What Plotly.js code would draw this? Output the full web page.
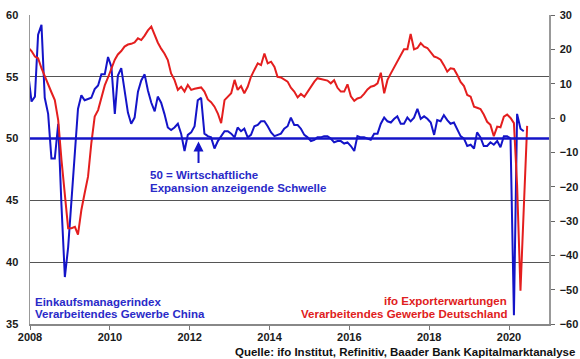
<!DOCTYPE html>
<html>
<head>
<meta charset="utf-8">
<script src="https://cdn.plot.ly/plotly-3.0.1.min.js"></script>
<style>html,body{margin:0;padding:0;background:#fff;}#chart{width:580px;height:359px;}</style>
</head>
<body>
<div id="chart"></div>
<script>
// First month of both series: December 2007 (values plotted mid-month)
const startYear = 2007, startMonth = 12;

// Einkaufsmanagerindex, Verarbeitendes Gewerbe China (left axis)
const chinaPMI = [
  55.3,
  53.0, 53.4, 58.4, 59.2, 53.3, 52.0, 48.4, 48.4, 51.2, 44.6, 38.8, 41.2,
  45.3, 49.0, 52.4, 53.5, 53.1, 53.2, 53.3, 54.0, 54.3, 55.2, 55.2, 56.6,
  55.8, 52.0, 55.1, 55.7, 53.9, 52.1, 51.2, 51.7, 53.8, 54.7, 55.2, 53.9,
  52.9, 52.2, 53.4, 52.9, 52.0, 50.9, 50.7, 50.9, 51.2, 50.4, 49.0, 50.3,
  50.5, 51.0, 53.1, 53.3, 50.4, 50.2, 50.1, 49.2, 49.8, 50.2, 50.6, 50.6,
  50.4, 50.1, 50.9, 50.6, 50.8, 50.1, 50.3, 51.0, 51.1, 51.4, 51.4, 51.0,
  50.5, 50.2, 50.3, 50.4, 50.8, 51.0, 51.7, 51.1, 51.1, 50.8, 50.3, 50.1,
  49.8, 49.9, 50.1, 50.1, 50.2, 50.2, 50.0, 49.7, 49.8, 49.8, 49.6, 49.7,
  49.4, 49.0, 50.2, 50.1, 50.1, 50.0, 49.9, 50.4, 50.4, 51.2, 51.7, 51.4,
  51.3, 51.6, 51.8, 51.2, 51.2, 51.7, 51.4, 51.7, 52.4, 51.6, 51.8, 51.6,
  51.3, 50.3, 51.5, 51.4, 51.9, 51.5, 51.2, 51.3, 50.8, 50.2, 50.0, 49.4,
  49.5, 49.2, 50.5, 50.1, 49.4, 49.4, 49.7, 49.5, 49.8, 49.3, 50.2, 50.2,
  50.0, 35.7, 52.0, 50.8, 50.6
];

// ifo Exporterwartungen, Verarbeitendes Gewerbe Deutschland (right axis)
const ifoExport = [
  20.5,
  19.5, 17.9, 17.4, 14.5, 12.0, 10.0, 7.5, 5.2, -0.6, -12.2, -21.9, -32.1,
  -32.1, -31.7, -34.0, -26.8, -21.9, -17.1, -7.4, 0.4, 2.3, 5.8, 9.5, 11.8,
  14.2, 17.0, 18.5, 19.5, 20.8, 21.4, 21.6, 22.0, 23.2, 22.7, 24.0, 25.5,
  26.6, 24.2, 22.0, 20.2, 18.8, 16.9, 13.0, 11.1, 8.2, 9.1, 7.7, 9.6,
  8.2, 8.5, 8.7, 8.9, 7.7, 5.4, 4.6, 3.3, 1.3, -1.5, 5.2, 6.2,
  7.2, 11.1, 8.2, 9.3, 7.2, 9.1, 12.0, 14.0, 15.9, 15.4, 18.8, 15.9,
  16.4, 14.9, 12.0, 11.8, 11.3, 10.6, 8.8, 7.7, 6.0, 7.0, 6.2, 7.7,
  9.3, 10.6, 11.6, 11.3, 11.0, 10.9, 10.1, 11.0, 8.8, 7.7, 7.7, 9.8,
  6.3, 5.0, 5.7, 6.0, 7.0, 8.3, 9.1, 9.4, 10.1, 13.2, 7.2, 11.1,
  13.0, 14.9, 16.6, 18.3, 20.0, 20.0, 24.5, 20.0, 20.4, 21.8, 20.8, 20.4,
  19.3, 17.9, 17.6, 17.0, 15.4, 13.5, 14.5, 14.3, 12.5, 10.5, 9.3, 6.7,
  6.2, 3.3, 3.0, 2.6, 1.0, -1.1, -2.0, -5.3, -2.5, -2.7, 0.4, 1.0,
  0.0, -1.5, -19.5, -50.3, -26.5, -2.3
];

const yearTicks = ['2008', '2010', '2012', '2014', '2016', '2018', '2020'];
const leftTicks = [35, 40, 45, 50, 55, 60];
const threshold = 50;

function monthDates(n) {
  const out = [];
  for (let i = 0; i < n; i++) {
    const m0 = (startMonth - 1) + i;
    const y = startYear + Math.floor(m0 / 12);
    const m = (m0 % 12) + 1;
    out.push(y + '-' + String(m).padStart(2, '0') + '-15');
  }
  return out;
}

const BLUE = '#1414c8';
const RED = '#e41e1e';
const TXTBLUE = '#2a2ac8';
const TXTRED = '#e02020';
const FONT = 'Liberation Sans, Arial, sans-serif';

const traces = [
  {
    x: monthDates(chinaPMI.length), y: chinaPMI, type: 'scatter', mode: 'lines',
    line: {color: BLUE, width: 2}, yaxis: 'y', hoverinfo: 'skip'
  },
  {
    x: monthDates(ifoExport.length), y: ifoExport, type: 'scatter', mode: 'lines',
    line: {color: RED, width: 2}, yaxis: 'y2', hoverinfo: 'skip'
  }
];

const tickFont = {family: FONT, size: 11, color: '#1a1a1a', weight: 'bold'};

function txt(text, x, y, xanchor, color) {
  return {
    text: text, xref: 'paper', yref: 'paper', x: x, y: y,
    xanchor: xanchor, yanchor: 'middle', showarrow: false,
    font: {family: FONT, size: 11.5, color: color, weight: 'bold'}
  };
}

const layout = {
  width: 580, height: 359,
  margin: {l: 30, r: 31, t: 15, b: 35, pad: 0},
  paper_bgcolor: '#ffffff', plot_bgcolor: '#ffffff',
  showlegend: false,
  font: {family: FONT, size: 11, color: '#1a1a1a'},
  xaxis: {
    type: 'date', range: ['2008-01-01', '2021-01-01'],
    tickvals: yearTicks.map(function (t) { return t + '-01-01'; }),
    ticktext: yearTicks,
    ticks: 'outside', ticklen: 4, tickwidth: 1, tickcolor: '#777',
    showline: true, linecolor: '#888', linewidth: 1.5,
    showgrid: false, zeroline: false, ticklabelstandoff: -2, tickfont: tickFont
  },
  yaxis: {
    range: [35, 60], tickvals: leftTicks,
    showgrid: true, gridcolor: '#555', gridwidth: 1,
    showline: true, linecolor: '#999', linewidth: 1.5,
    zeroline: false, ticks: '', ticklabelstandoff: 8, tickfont: tickFont
  },
  yaxis2: {
    overlaying: 'y', side: 'right', range: [-60, 30], tick0: 0, dtick: 10,
    ticks: 'outside', ticklen: 4, tickwidth: 1, tickcolor: '#666',
    showline: true, linecolor: '#999', linewidth: 1.5,
    showgrid: false, zeroline: false, ticklabelstandoff: 3, tickfont: tickFont
  },
  shapes: [
    {type: 'line', xref: 'paper', x0: 0, x1: 1, yref: 'y', y0: threshold, y1: threshold,
     line: {color: BLUE, width: 2.5}, layer: 'above'}
  ],
  annotations: [
    {text: '', x: '2012-03-22', y: threshold, xref: 'x', yref: 'y',
     showarrow: true, ax: 0, ay: 26, axref: 'pixel', ayref: 'pixel',
     arrowhead: 2, arrowsize: 1, arrowwidth: 2, arrowcolor: BLUE, standoff: 3},
    txt('50 = Wirtschaftliche', 0.2274, 0.4822, 'left', TXTBLUE),
    txt('Expansion anzeigende Schwelle', 0.2274, 0.4417, 'left', TXTBLUE),
    txt('Einkaufsmanagerindex', 0.0058, 0.0728, 'left', TXTBLUE),
    txt('Verarbeitendes Gewerbe China', 0.0058, 0.0324, 'left', TXTBLUE),
    txt('ifo Exporterwartungen', 0.922, 0.0760, 'right', TXTRED),
    txt('Verarbeitendes Gewerbe Deutschland', 0.922, 0.0324, 'right', TXTRED),
    txt('Quelle: ifo Institut, Refinitiv, Baader Bank Kapitalmarktanalyse', 1.054, -0.0906, 'right', '#111')
  ]
};

Plotly.newPlot('chart', traces, layout, {staticPlot: true, displayModeBar: false});
</script>
</body>
</html>
